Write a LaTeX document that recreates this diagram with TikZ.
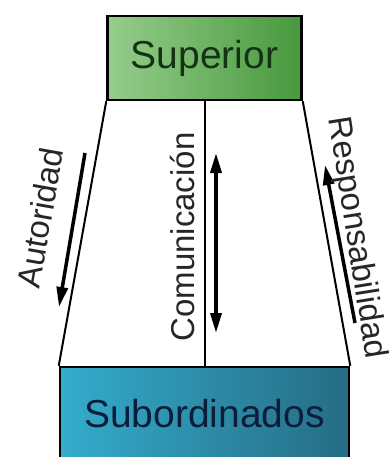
\documentclass[tikz,border=0pt]{standalone}
\usepackage{fontspec}
\setmainfont{Liberation Sans}
\usetikzlibrary{arrows.meta}

\definecolor{supleft}{RGB}{150,205,140}
\definecolor{supright}{RGB}{72,152,62}
\definecolor{subleft}{RGB}{52,172,204}
\definecolor{subright}{RGB}{38,108,132}
\definecolor{suptext}{RGB}{20,50,20}
\definecolor{subtext}{RGB}{10,30,60}

\begin{document}
\begin{tikzpicture}[
    x=1pt, y=-1pt,
    >={Triangle[length=20pt,width=11pt]},
    level/.style={
        rectangle,
        draw=black,
        line width=2.5pt,
        inner sep=0pt,
        font=\fontsize{39}{39}\selectfont
    },
    tag/.style={
        inner sep=0pt,
        text=black!85,
        font=\fontsize{33}{33}\selectfont
    },
    flow/.style={line width=3.5pt},
    side/.style={line width=2pt}
]
\clip (0,0) rectangle (391,457);

\node[level, minimum width=194pt, minimum height=84pt,
      left color=supleft, right color=supright, text=suptext] (sup) at (204.5,58) {Superior};
\node[level, minimum width=289pt, minimum height=93pt,
      left color=subleft, right color=subright, text=subtext] (sub) at (204.5,413.5) {Subordinados};

\draw[side] (sup.south west) -- (sub.north west);
\draw[side] (sup.south east) -- (sub.north east);
\draw[side] (sup.south) -- (sub.north);

\coordinate (aut1) at (85,153);
\coordinate (aut2) at (59,307);
\coordinate (com1) at (216,153);
\coordinate (com2) at (216,333);
\coordinate (res1) at (355,323);
\coordinate (res2) at (325,165);

\draw[flow,->] (aut1) -- (aut2);
\draw[flow,<->] (com1) -- (com2);
\draw[flow,->] (res1) -- (res2);

\node[tag, rotate=80] (autoridad) at (40,218) {Autoridad};
\node[tag, rotate=90] (comunicacion) at (183,237) {Comunicación};
\node[tag, rotate=-81] (responsabilidad) at (356,238) {Responsabilidad};

\end{tikzpicture}
\end{document}
